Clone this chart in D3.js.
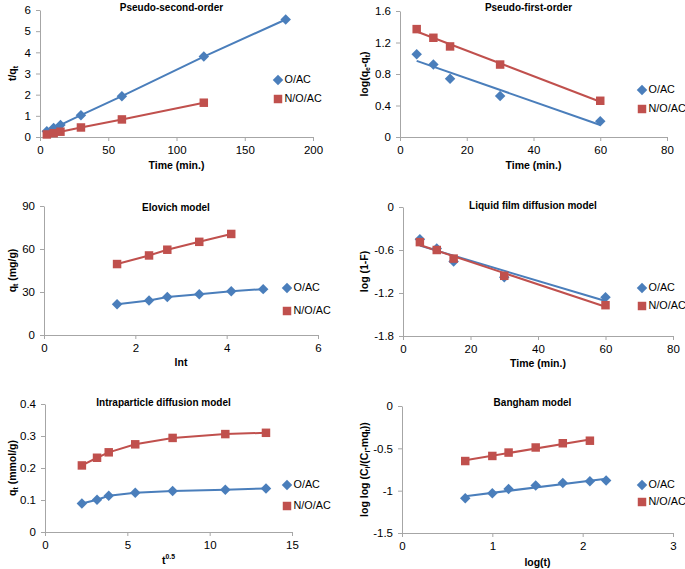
<!DOCTYPE html>
<html>
<head>
<meta charset="utf-8">
<script src="https://cdn.jsdelivr.net/npm/d3@7"></script>
<style>
  body { margin: 0; background: #fff; }
  svg text { font-family: "Liberation Sans", Arial, sans-serif; fill: #000; }
</style>
</head>
<body>
<div id="container"></div>
<script>
// chart data
let series = ["O/AC", "N/O/AC"];

// pseudo-second-order
let p1TimeO = [5, 10, 15, 30, 60, 120, 180];
let p1ValO = [0.27, 0.42, 0.57, 1.03, 1.93, 3.8, 5.55];
let p1TimeN = [5, 10, 15, 30, 60, 120];
let p1ValN = [0.12, 0.18, 0.25, 0.45, 0.83, 1.62];
let p1XTicks = [0, 50, 100, 150, 200];
let p1YTicks = [0, 1, 2, 3, 4, 5, 6];

// pseudo-first-order
let p2Time = [5, 10, 15, 30, 60];
let p2ValO = [1.05, 0.92, 0.74, 0.52, 0.2];
let p2ValN = [1.37, 1.26, 1.15, 0.92, 0.46];
let p2XTicks = [0, 20, 40, 60, 80];
let p2YTicks = [0, 0.4, 0.8, 1.2, 1.6];

// elovich
let p3LntO = [1.6, 2.3, 2.7, 3.4, 4.1, 4.8];
let p3ValO = [21.5, 24, 26.5, 28.5, 30.5, 32];
let p3LntN = [1.6, 2.3, 2.7, 3.4, 4.1];
let p3ValN = [49.5, 55.5, 59.5, 65, 70.5];
let p3XTicks = [0, 2, 4, 6];
let p3YTicks = [0, 30, 60, 90];

// liquid film diffusion
let p4Time = [5, 10, 15, 30, 60];
let p4ValO = [-0.45, -0.58, -0.76, -0.98, -1.26];
let p4ValN = [-0.49, -0.6, -0.72, -0.96, -1.37];
let p4XTicks = [0, 20, 40, 60, 80];
let p4YTicks = [0, -0.6, -1.2, -1.8];

// intraparticle diffusion
let p5Sqrt = [2.24, 3.16, 3.87, 5.48, 7.75, 10.95, 13.42];
let p5ValO = [0.089, 0.101, 0.113, 0.123, 0.128, 0.132, 0.136];
let p5ValN = [0.208, 0.232, 0.249, 0.274, 0.294, 0.306, 0.31];
let p5XTicks = [0, 5, 10, 15];
let p5YTicks = [0, 0.1, 0.2, 0.3, 0.4];

// bangham
let p6LogO = [0.7, 1, 1.18, 1.48, 1.78, 2.08, 2.26];
let p6ValO = [-1.09, -1.03, -0.98, -0.94, -0.91, -0.89, -0.88];
let p6LogN = [0.7, 1, 1.18, 1.48, 1.78, 2.08];
let p6ValN = [-0.65, -0.59, -0.55, -0.49, -0.44, -0.41];
let p6XTicks = [0, 1, 2, 3];
let p6YTicks = [0, -0.5, -1, -1.5];

let blue = "#4a7ebb";
let red = "#c0504d";
let axisColor = "#a6a6a6";

function zip(xs, ys) { return xs.map((x, i) => [x, ys[i]]); }

// panels: box = axis pixel extents
let panels = [
  { title: "Pseudo-second-order", box: [40, 313, 10, 137], xd: [0, 200], yd: [0, 6],
    xt: p1XTicks, yt: p1YTicks, fit: "line", titleY: 8, legX: 278, legY: [80, 99],
    o: zip(p1TimeO, p1ValO), n: zip(p1TimeN, p1ValN),
    xLabel: [["Time (min.)"]], xLabelY: 166, yLabel: [["t/q"], ["t", "sub"]], yLabelX: 13 },
  { title: "Pseudo-first-order", box: [400, 667, 11, 137], xd: [0, 80], yd: [0, 1.6],
    xt: p2XTicks, yt: p2YTicks, fit: "trend", titleY: 8, legX: 642, legY: [90, 109],
    o: zip(p2Time, p2ValO), n: zip(p2Time, p2ValN), yFmt: d => d === 0 ? "0" : d.toFixed(1),
    xLabel: [["Time (min.)"]], xLabelY: 166,
    yLabel: [["log(q"], ["e", "sub"], ["-q"], ["t", "sub"], [")"]], yLabelX: 365 },
  { title: "Elovich model", box: [44, 318, 206, 335], xd: [0, 6], yd: [0, 90],
    xt: p3XTicks, yt: p3YTicks, fit: "line", titleY: 208, legX: 287, legY: [288, 311],
    o: zip(p3LntO, p3ValO), n: zip(p3LntN, p3ValN),
    xLabel: [["lnt"]], xLabelY: 363, yLabel: [["q"], ["t", "sub"], [" (mg/g)"]], yLabelX: 13 },
  { title: "Liquid film diffusion model", box: [403, 673, 207, 336], xd: [0, 80], yd: [-1.8, 0],
    xt: p4XTicks, yt: p4YTicks, fit: "trend", titleY: 206, legX: 642, legY: [288, 306],
    o: zip(p4Time, p4ValO), n: zip(p4Time, p4ValN),
    xLabel: [["Time (min.)"]], xLabelY: 364, yLabel: [["log (1-F)"]], yLabelX: 365 },
  { title: "Intraparticle diffusion model", box: [45, 292, 404, 532], xd: [0, 15], yd: [0, 0.4],
    xt: p5XTicks, yt: p5YTicks, fit: "line", titleY: 403, legX: 287, legY: [485, 506],
    o: zip(p5Sqrt, p5ValO), n: zip(p5Sqrt, p5ValN),
    xLabel: [["t"], ["0.5", "super"]], xLabelY: 561,
    yLabel: [["q"], ["t", "sub"], [" (mmol/g)"]], yLabelX: 13 },
  { title: "Bangham model", box: [402, 673, 406, 533], xd: [0, 3], yd: [-1.5, 0],
    xt: p6XTicks, yt: p6YTicks, fit: "trend", titleY: 403, legX: 642, legY: [485, 502],
    o: zip(p6LogO, p6ValO), n: zip(p6LogN, p6ValN),
    xLabel: [["log(t)"]], xLabelY: 563,
    yLabel: [["log log (C"], ["i", "sub"], ["/(C"], ["i", "sub"], ["-mq"], ["t", "sub"], ["))"]], yLabelX: 365 }
];

function linFit(pts) {
  let mx = d3.mean(pts, d => d[0]), my = d3.mean(pts, d => d[1]);
  let sxy = d3.sum(pts, d => (d[0] - mx) * (d[1] - my));
  let sxx = d3.sum(pts, d => (d[0] - mx) * (d[0] - mx));
  let b = sxy / sxx, a = my - b * mx;
  let x0 = d3.min(pts, d => d[0]), x1 = d3.max(pts, d => d[0]);
  return [[x0, a + b * x0], [x1, a + b * x1]];
}

function addRich(sel, parts, size) {
  parts.forEach(p => {
    let t = sel.append("tspan").text(p[0]);
    if (p[1] === "sub") t.attr("baseline-shift", "sub").attr("font-size", size * 0.65);
    if (p[1] === "super") t.attr("baseline-shift", "super").attr("font-size", size * 0.65);
  });
}

let svg = d3.select("#container").append("svg")
  .attr("width", 685).attr("height", 569);

let diamond = d3.symbol().type(d3.symbolDiamond2).size(70);
let square = d3.symbol().type(d3.symbolSquare).size(72);

panels.forEach(p => {
  let g = svg.append("g");
  let x = d3.scaleLinear().domain(p.xd).range([p.box[0], p.box[1]]);
  let y = d3.scaleLinear().domain(p.yd).range([p.box[3], p.box[2]]);

  let xAxis = g.append("g").attr("transform", `translate(0,${y(p.yd[0])})`)
    .call(d3.axisBottom(x).tickValues(p.xt).tickSize(4).tickSizeOuter(0).tickPadding(5)
      .tickFormat(d => String(d)));
  let yAxis = g.append("g").attr("transform", `translate(${p.box[0]},0)`)
    .call(d3.axisLeft(y).tickValues(p.yt).tickSize(4).tickSizeOuter(0).tickPadding(5)
      .tickFormat(p.yFmt || (d => String(d))));
  [xAxis, yAxis].forEach(a => {
    a.selectAll("path, line").attr("stroke", axisColor);
    a.selectAll("text").attr("font-size", 11.5).attr("fill", "#222")
      .attr("font-family", "'Liberation Sans', sans-serif");
  });

  g.append("text").attr("x", (p.box[0] + p.box[1]) / 2 - 5).attr("y", p.titleY)
    .attr("text-anchor", "middle").attr("dominant-baseline", "middle")
    .attr("font-size", 10).attr("font-weight", "bold").text(p.title);

  let xl = g.append("text").attr("x", (p.box[0] + p.box[1]) / 2).attr("y", p.xLabelY)
    .attr("text-anchor", "middle").attr("dominant-baseline", "middle")
    .attr("font-size", 10.5).attr("font-weight", "bold");
  addRich(xl, p.xLabel, 10.5);

  let yl = g.append("text")
    .attr("transform", `translate(${p.yLabelX},${(p.box[2] + p.box[3]) / 2}) rotate(-90)`)
    .attr("text-anchor", "middle").attr("dominant-baseline", "middle")
    .attr("font-size", 10.5).attr("font-weight", "bold");
  addRich(yl, p.yLabel, 10.5);

  let line = d3.line().x(d => x(d[0])).y(d => y(d[1]));
  [[p.o, blue], [p.n, red]].forEach(([pts, col]) => {
    let lp = p.fit === "trend" ? linFit(pts) : pts;
    g.append("path").datum(lp).attr("d", line)
      .attr("fill", "none").attr("stroke", col).attr("stroke-width", 2);
  });

  g.selectAll(".mo").data(p.o).join("path")
    .attr("transform", d => `translate(${x(d[0])},${y(d[1])})`)
    .attr("d", diamond).attr("fill", blue);
  g.selectAll(".mn").data(p.n).join("path")
    .attr("transform", d => `translate(${x(d[0])},${y(d[1])})`)
    .attr("d", square).attr("fill", red);

  // legend
  series.forEach((s, i) => {
    let ly = p.legY[i];
    g.append("path").attr("transform", `translate(${p.legX},${ly})`)
      .attr("d", i === 0 ? diamond : square).attr("fill", i === 0 ? blue : red);
    g.append("text").attr("x", p.legX + 6.5).attr("y", ly)
      .attr("dominant-baseline", "middle").attr("font-size", 10.8)
      .text(s);
  });
});
</script>
</body>
</html>
